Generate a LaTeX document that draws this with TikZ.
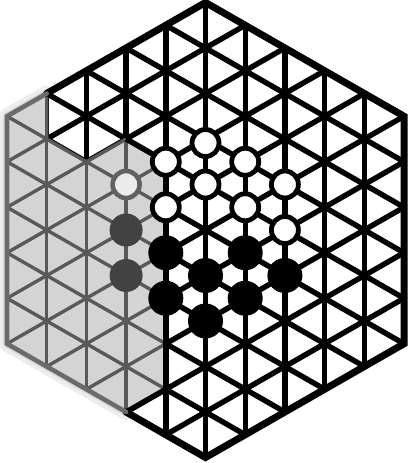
\documentclass[tikz,border=0pt]{standalone}
\begin{document}
\begin{tikzpicture}[x=1pt,y=-1pt,
  gridline/.style={line width=5.4pt,black},
  grayline/.style={line width=3.4pt,black!65},
  hexedge/.style={line width=7pt,black,line join=miter,line cap=round},
  grayedge/.style={line width=4.6pt,black!58,line join=miter,line cap=round},
  whitestone/.style={circle,draw=black,line width=4.8pt,fill=white,minimum size=27pt,inner sep=0pt},
  blackstone/.style={circle,fill=black,minimum size=35pt,inner sep=0pt},
  graywhitestone/.style={circle,draw=black!62,line width=4.6pt,fill=black!8,minimum size=27pt,inner sep=0pt},
  grayblackstone/.style={circle,fill=black!74,minimum size=33pt,inner sep=0pt}]
\useasboundingbox (0,0) rectangle (408,463);
\def\X#1{205.5+(#1)*39.7}
\def\Y#1{230+(#1)*22.75}
% hexagon corners
\coordinate (hT)  at ({\X{0}},{\Y{-10}});
\coordinate (hTR) at ({\X{5}},{\Y{-5}});
\coordinate (hBR) at ({\X{5}},{\Y{5}});
\coordinate (hB)  at ({\X{0}},{\Y{10}});
\coordinate (hBL) at ({\X{-5}},{\Y{5}});
\coordinate (hTL) at ({\X{-5}},{\Y{-5}});
% shaded region corners
\coordinate (g1) at ({\X{-4}},{\Y{-6}});
\coordinate (g2) at ({\X{-4}},{\Y{-4}});
\coordinate (g3) at ({\X{-3}},{\Y{-3}});
\coordinate (g4) at ({\X{-2}},{\Y{-4}});
\coordinate (g5) at ({\X{-1}},{\Y{-3}});
\coordinate (g6) at ({\X{-1}},{\Y{7}});
\coordinate (g7) at ({\X{-2}},{\Y{8}});
% soft halo of the screen
\draw[black,opacity=0.07,line width=16pt,line join=round]
  (hTL) -- (g1) -- (g2) -- (g3) -- (g4) -- (g5) -- (g6) -- (g7) -- (hBL) -- cycle;
\draw[black,opacity=0.08,line width=8pt,line join=round]
  (hTL) -- (g1) -- (g2) -- (g3) -- (g4) -- (g5) -- (g6) -- (g7) -- (hBL) -- cycle;
% black grid
\begin{scope}
  \clip (hT) -- (hTR) -- (hBR) -- (hB) -- (hBL) -- (hTL) -- cycle;
  \fill[white] (hT) -- (hTR) -- (hBR) -- (hB) -- (g7) -- (g6) -- (g5) -- (g4) -- (g3) -- (g2) -- (g1) -- cycle;
  \foreach \j in {-5,...,5}
    \draw[gridline] ({\X{\j}},{\Y{-12}}) -- ({\X{\j}},{\Y{12}});
  \foreach \c in {-10,-8,...,10} {
    \draw[gridline] ({\X{-6}},{\Y{-6+\c}}) -- ({\X{6}},{\Y{6+\c}});
    \draw[gridline] ({\X{-6}},{\Y{6+\c}}) -- ({\X{6}},{\Y{-6+\c}});
  }
\end{scope}
% shaded part
\fill[black!17] (hTL) -- (g1) -- (g2) -- (g3) -- (g4) -- (g5) -- (g6) -- (g7) -- (hBL) -- cycle;
\begin{scope}
  \clip (hTL) -- (g1) -- (g2) -- (g3) -- (g4) -- (g5) -- (g6) -- (g7) -- (hBL) -- cycle;
  \foreach \j in {-5,...,5}
    \draw[grayline] ({\X{\j}},{\Y{-12}}) -- ({\X{\j}},{\Y{12}});
  \foreach \c in {-10,-8,...,10} {
    \draw[grayline] ({\X{-6}},{\Y{-6+\c}}) -- ({\X{6}},{\Y{6+\c}});
    \draw[grayline] ({\X{-6}},{\Y{6+\c}}) -- ({\X{6}},{\Y{-6+\c}});
  }
\end{scope}
\draw[grayline,line join=round] (g1) -- (g2) -- (g3) -- (g4);
\draw[gridline,line join=round] (g4) -- (g5) -- (g6) -- (g7);
% outline
\draw[hexedge] (g1) -- (hT) -- (hTR) -- (hBR) -- (hB) -- (g7);
\draw[grayedge] (g7) -- (hBL) -- (hTL) -- (g1);
% white stones
\node[whitestone] (w1) at ({\X{0}},{\Y{-4}+4}) {};
\node[whitestone] (w2) at ({\X{-1}},{\Y{-3}}) {};
\node[whitestone] (w3) at ({\X{1}},{\Y{-3}}) {};
\node[whitestone] (w4) at ({\X{0}},{\Y{-2}}) {};
\node[whitestone] (w5) at ({\X{2}},{\Y{-2}}) {};
\node[whitestone] (w6) at ({\X{-1}},{\Y{-1}}) {};
\node[whitestone] (w7) at ({\X{1}},{\Y{-1}}) {};
\node[whitestone] (w8) at ({\X{2}},{\Y{0}}) {};
\node[graywhitestone] (w9) at ({\X{-2}},{\Y{-2}}) {};
% black stones
\node[blackstone] (b1) at ({\X{-1}},{\Y{1}}) {};
\node[blackstone] (b2) at ({\X{1}},{\Y{1}}) {};
\node[blackstone] (b3) at ({\X{0}},{\Y{2}}) {};
\node[blackstone] (b4) at ({\X{2}},{\Y{2}}) {};
\node[blackstone] (b5) at ({\X{-1}},{\Y{3}}) {};
\node[blackstone] (b6) at ({\X{1}},{\Y{3}}) {};
\node[blackstone] (b7) at ({\X{0}},{\Y{4}}) {};
\node[grayblackstone] (b8) at ({\X{-2}},{\Y{0}}) {};
\node[grayblackstone] (b9) at ({\X{-2}},{\Y{2}}) {};
\end{tikzpicture}
\end{document}
